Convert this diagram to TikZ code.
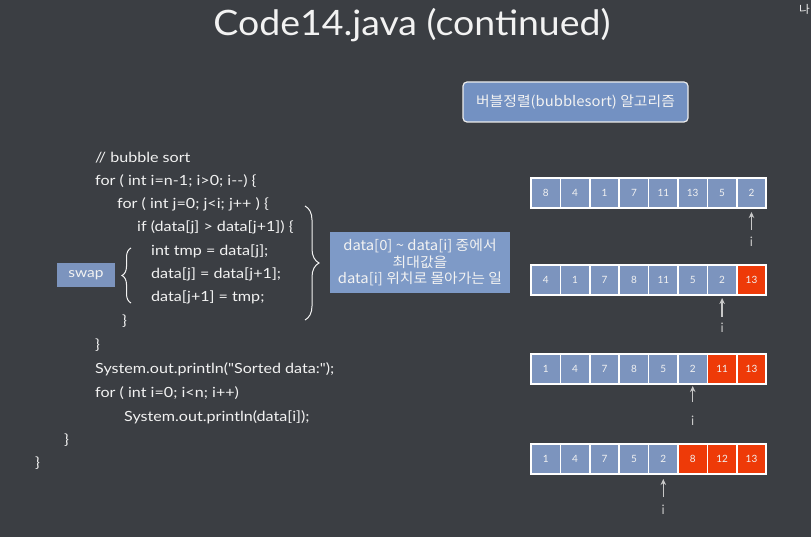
\documentclass[tikz,border=0pt]{standalone}
\usepackage{fontspec}
\setmainfont{Lato}
\newfontfamily\chalk[FakeStretch=1.15]{Lato}
\newfontfamily\titlefont[FakeStretch=1.07]{Lato}
\newfontfamily\kr[FakeStretch=1.06]{Noto Sans CJK KR}
\usetikzlibrary{decorations.pathreplacing,arrows.meta}
\definecolor{bg}{HTML}{3B3E43}
\definecolor{boxblue}{HTML}{7391C2}
\definecolor{cellblue}{HTML}{7C94BE}
\definecolor{cellred}{HTML}{EE3A08}
\definecolor{chalkc}{HTML}{F2F2F2}
\definecolor{arrowgray}{HTML}{C8C8C8}
\tikzset{
  code/.style={anchor=west,text=chalkc,font=\chalk\fontsize{14}{15}\selectfont,inner sep=0pt},
  cell/.style={draw=white,line width=1.6pt,fill=cellblue,minimum width=29.4pt,minimum height=30pt,inner sep=0pt,text=chalkc,font=\fontsize{10}{11}\selectfont},
  hot/.style={cell,fill=cellred},
  ptr/.style={draw=arrowgray,line width=1.4pt,-{Stealth[length=6pt,width=5.5pt]}},
  ilabel/.style={text=arrowgray,font=\fontsize{13}{14}\selectfont,inner sep=0pt},
  brc/.style={draw=chalkc,line width=1pt,decorate},
}
\begin{document}
\begin{tikzpicture}[x=1pt,y=-1pt]
\fill[bg] (0,0) rectangle (811,537);
\useasboundingbox (0,0) rectangle (811,537);
\node[text=chalkc,font=\titlefont\fontsize{35}{40}\selectfont] (title) at (412,25) {Code14.java (continued)};
\node[text=chalkc,font=\kr\fontsize{11}{12}\selectfont,anchor=west,inner sep=0pt] (corner) at (799,9) {나};
% label box
\node[draw=white!85!gray,line width=1.2pt,fill=boxblue,rounded corners=4pt,minimum width=225pt,minimum height=40pt,text=chalkc,font=\kr\fontsize{14}{15}\selectfont] (algo) at (575.5,102) {버블정렬(bubblesort) 알고리즘};
% code
\node[code] (l1) at (95,158) {// bubble sort};
\node[code] (l2) at (95,181) {for ( int i=n-1; i>0; i-{}-) \{};
\node[code] (l3) at (117,204) {for ( int j=0; j<i; j++ ) \{};
\node[code] (l4) at (137,227) {if (data[j] > data[j+1]) \{};
\node[code] (l5) at (151,251) {int tmp = data[j];};
\node[code] (l6) at (151,274) {data[j] = data[j+1];};
\node[code] (l7) at (151,297) {data[j+1] = tmp;};
\node[code] (l8) at (122,321) {\}};
\node[code] (l9) at (95,345) {\}};
\node[code] (l10) at (95,369) {System.out.println(\symbol{34}Sorted data:\symbol{34});};
\node[code] (l11) at (95,393) {for ( int i=0; i<n; i++)};
\node[code] (l12) at (124,417) {System.out.println(data[i]);};
\node[code] (l13) at (64,440) {\}};
\node[code] (l14) at (35,463) {\}};
% swap
\node[fill=cellblue,minimum width=58pt,minimum height=24pt,text=chalkc,font=\chalk\fontsize{13.5}{14}\selectfont,inner sep=0pt] (swap) at (86,275) {swap};
\coordinate (sb1) at (131,303);
\coordinate (sb2) at (131,248);
\draw[brc,decoration={brace,amplitude=9pt}] (sb1) -- (sb2);
% big brace and comment
\coordinate (bb1) at (305,206);
\coordinate (bb2) at (305,320);
\draw[brc,decoration={brace,amplitude=14pt}] (bb1) -- (bb2);
\node[fill=boxblue!92!white,minimum width=180pt,minimum height=61pt,text=chalkc,font=\kr\fontsize{14}{16.5}\selectfont,align=center,inner sep=0pt] (note) at (420,262.5) {data[0] \textasciitilde{} data[i] 중에서\\최대값을\\data[i] 위치로 몰아가는 일};
% arrays
\foreach \r/\y/\vals/\nred/\ip/\ya/\yb/\yi in {
  1/193/{8,4,1,7,11,13,5,2}/0/8/230/212/242,
  2/280/{4,1,7,8,11,5,2,13}/1/7/317/298/328,
  3/369/{1,4,7,8,5,2,11,13}/2/6/402/386/421,
  4/459/{1,4,7,5,2,8,12,13}/3/5/497/479/510}{
  \foreach \v [count=\k] in \vals {
    \pgfmathtruncatemacro{\isred}{\k>8-\nred ? 1 : 0}
    \ifnum\isred=1
      \node[hot] (c\r-\k) at ({531+29.4*(\k-0.5)},\y) {\v};
    \else
      \node[cell] (c\r-\k) at ({531+29.4*(\k-0.5)},\y) {\v};
    \fi
  }
  \coordinate (pa\r) at ({531+29.4*(\ip-0.5)},\ya);
  \coordinate (pb\r) at ({531+29.4*(\ip-0.5)},\yb);
  \draw[ptr] (pa\r) -- (pb\r);
  \node[ilabel] (i\r) at ({531+29.4*(\ip-0.5)},\yi) {i};
}
\end{tikzpicture}
\end{document}
